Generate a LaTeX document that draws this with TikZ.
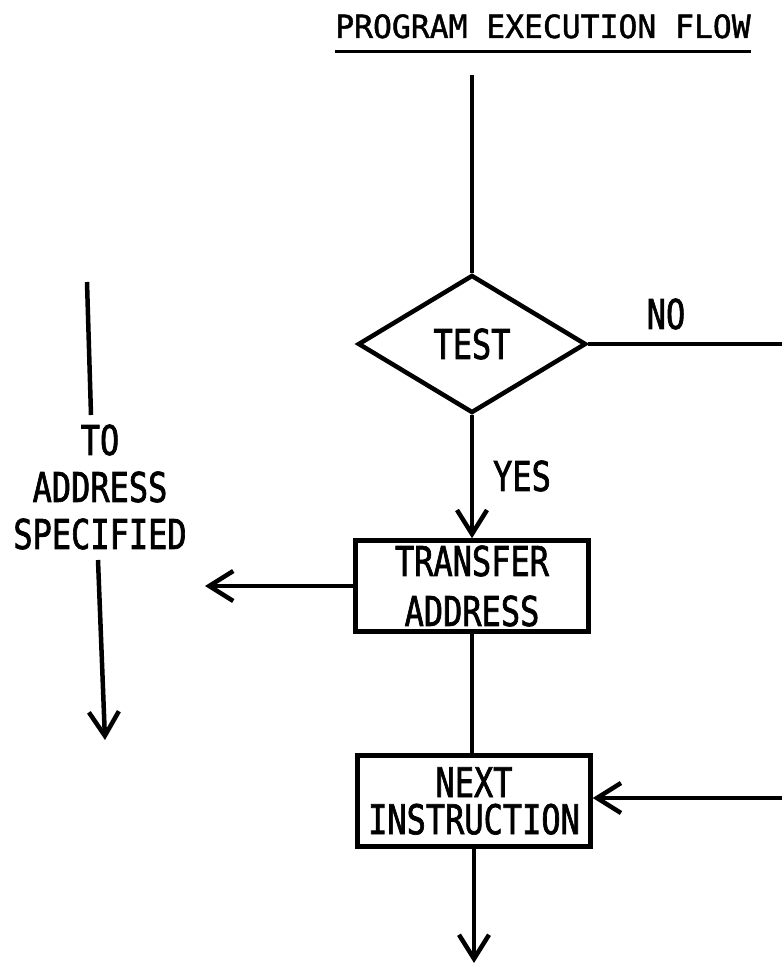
\documentclass[tikz,border=0pt]{standalone}
\usepackage{fontspec}
\newfontfamily\flowfont{DejaVu Sans Mono}[FakeStretch=0.78,FakeBold=1.6]
\newfontfamily\headfont{DejaVu Sans Mono}[FakeStretch=0.98,FakeBold=1.4]
\usetikzlibrary{shapes.geometric,arrows.meta}
\tikzset{
  flow/.style={line width=4.5pt},
  arr/.style={flow,-{Straight Barb[length=24pt,width=30pt]}},
  lbl/.style={inner sep=0pt,font=\flowfont\fontsize{41}{50}\selectfont,align=center},
  decide/.style={diamond,draw,line width=4.5pt,aspect=1.65,minimum width=228pt,minimum height=138pt,inner sep=0pt},
  procbox/.style={rectangle,draw,line width=4.5pt,minimum width=233pt,minimum height=91pt,inner sep=0pt}
}
\begin{document}
\begin{tikzpicture}[x=1pt,y=-1pt]
\useasboundingbox (0,0) rectangle (782,965);
% heading
\node[font=\headfont\fontsize{32}{38}\selectfont,inner sep=0pt,anchor=base] (title) at (543,38) {PROGRAM EXECUTION FLOW};
\draw[line width=3pt] ([yshift=-14pt]title.base west) -- ([yshift=-14pt]title.base east);
% main path
\coordinate (entry) at (472,75);
\node[decide,lbl] (test) at (472,344) {TEST};
\node[lbl] (no) at (666,314) {NO};
\node[lbl] (yes) at (522,476) {YES};
\node[procbox,lbl] (xfer) at (472,586) {TRANSFER\\ADDRESS};
\node[procbox,lbl] (next) at (474,801) {NEXT\\[-13pt]INSTRUCTION};
\coordinate (noend) at (782,344);
\coordinate (noback) at (782,798);
\coordinate (xferout) at (205,586);
\coordinate (exit) at (474,963);
\draw[flow] (entry) -- (test.north);
\draw[flow] (test.east) -- (noend);
\draw[arr] (test.south) -- (xfer.north);
\draw[arr] (xfer.west) -- (xferout);
\draw[flow] (xfer.south) -- (xfer.south |- next.north);
\draw[arr] (noback) -- (noback -| next.east);
\draw[arr] (next.south) -- (exit);
% jump target
\node[lbl,font=\flowfont\fontsize{41}{47}\selectfont] (target) at (100,487) {TO\\ADDRESS\\SPECIFIED};
\coordinate (tgttop) at (87,282);
\coordinate (tgtmid) at (91,415);
\coordinate (tgtlow) at (98,560);
\coordinate (tgtend) at (105,740);
\draw[flow] (tgttop) -- (tgtmid);
\draw[arr] (tgtlow) -- (tgtend);
\end{tikzpicture}
\end{document}
